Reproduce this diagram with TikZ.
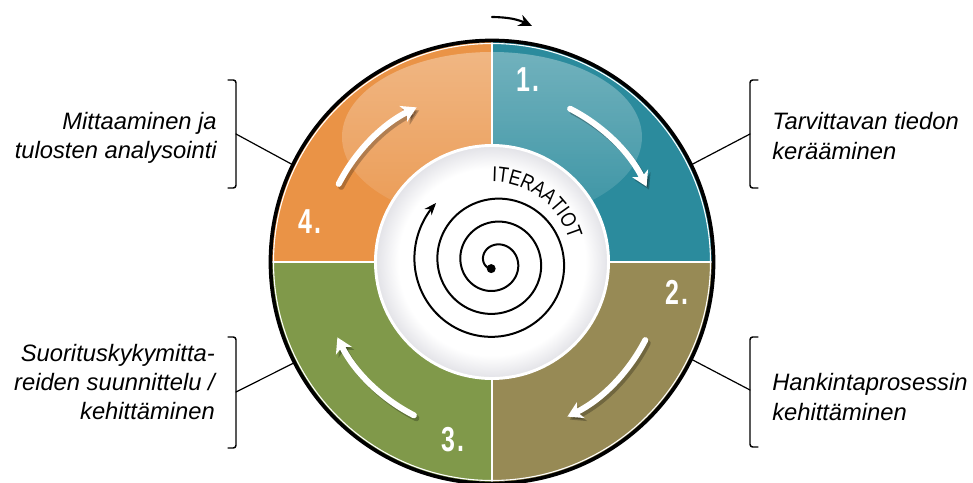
\documentclass[tikz,border=0pt]{standalone}
\usepackage{fontspec}
\setmainfont{Liberation Sans}
\newfontfamily\numfont[FakeStretch=0.72]{Liberation Sans}
\newfontfamily\condfont[FakeStretch=0.82]{Liberation Sans}
\usetikzlibrary{arrows.meta,decorations.text,fadings}
\definecolor{tealq}{RGB}{43,139,157}
\definecolor{oliveq}{RGB}{151,138,85}
\definecolor{greenq}{RGB}{128,153,74}
\definecolor{orangeq}{RGB}{234,147,70}
\definecolor{discgray}{RGB}{172,172,186}
\pgfdeclareradialshading{discshade}{\pgfpoint{0bp}{0bp}}{color(0bp)=(white); color(20bp)=(white); color(34bp)=(discgray); color(50bp)=(discgray)}

\begin{document}
\begin{tikzpicture}[x=0.75pt, y=0.75pt, line cap=round, line join=round,
  note/.style={font=\fontsize{17.8}{22}\selectfont\itshape, inner sep=0pt},
  num/.style={font=\numfont\bfseries\fontsize{26}{26}\selectfont, text=white, inner sep=0pt},
  flow/.style={white, line width=4.5pt, -{Stealth[length=11pt, width=13pt, inset=3pt]}},
  flowshadow/.style={flow, black, opacity=0.25, shift={(2.5,-3)}},
  brace/.style={line width=1.1pt, rounded corners=2pt},
  link/.style={line width=0.9pt}]
  \useasboundingbox (-492,-220) rectangle (481,262);

  % quadrants: 1 teal, 2 olive, 3 green, 4 orange
  \fill[tealq] (0,0) -- (90:220) arc[start angle=90, end angle=0, radius=220] -- cycle;
  \fill[oliveq] (0,0) -- (0:220) arc[start angle=0, end angle=-90, radius=220] -- cycle;
  \fill[greenq] (0,0) -- (-90:220) arc[start angle=-90, end angle=-180, radius=220] -- cycle;
  \fill[orangeq] (0,0) -- (180:220) arc[start angle=180, end angle=90, radius=220] -- cycle;

  % gloss on the upper half
  \begin{scope}
    \clip (0,0) circle[radius=219];
    \fill[white, fill opacity=0.08] (0,125) ellipse[x radius=150, y radius=85];
    \fill[white, fill opacity=0.28, path fading=south] (0,125) ellipse[x radius=150, y radius=85];
  \end{scope}

  % separators and rim
  \draw[white, line width=1.5pt] (0,-220) -- (0,220);
  \draw[white, line width=1.5pt] (-220,0) -- (220,0);
  \draw[white, line width=0.8pt] (0,0) circle[radius=218.5];
  \draw[line width=2.8pt] (0,0) circle[radius=221.5];

  % inner disc
  \shade[shading=discshade] (0,0) circle[radius=117];
  \draw[white, line width=2.2pt] (0,0) circle[radius=116.5];

  % spiral
  \coordinate (seed) at (-0.8,-6.6);
  \draw[line width=1.5pt, -{Stealth[length=9pt, width=7pt]}]
    plot[domain=120:1305, samples=400, smooth, variable=\t]
    ({3+0.0639*\t*cos(-\t)}, {0.0639*\t*sin(-\t)});
  \fill (seed) circle[radius=4.5];
  \path[decorate, decoration={text along path, text align=center,
    text={|\condfont\fontsize{16}{18}\selectfont|ITERAATIOT}}]
    (98:80) arc[start angle=98, end angle=8, radius=80];

  % white arrows
  \foreach \q in {90,0,-90,180} {
    \draw[flowshadow] ({\q-27}:172) arc[start angle=\q-27, end angle=\q-64, radius=172];
    \draw[flow] ({\q-27}:172) arc[start angle=\q-27, end angle=\q-64, radius=172];
  }

  % step numbers
  \foreach \k/\x/\y in {1/36/182, 2/185/-30, 3/-39/-178, 4/-182/40} {
    \node[num] (n\k) at (\x,\y) {\k\hspace{2pt}.};
  }

  % direction arrow on top
  \coordinate (r0) at (0,245);
  \coordinate (r1) at (40,236);
  \draw[line width=1.6pt, -{Stealth[length=10pt, width=9pt]}] (r0) to[bend left=12] (r1);

  % callouts
  \coordinate (b1) at (258,128);
  \coordinate (c1) at (26:221);
  \draw[brace] (266,182) -- (258,182) -- (258,74) -- (266,74);
  \draw[link] (b1) -- (c1);
  \node[note, anchor=west, align=left] (t1) at (280,126) {Tarvittavan tiedon\\kerääminen};

  \coordinate (b2) at (258,-128);
  \coordinate (c2) at (-26:221);
  \draw[brace] (266,-75) -- (258,-75) -- (258,-185) -- (266,-185);
  \draw[link] (b2) -- (c2);
  \node[note, anchor=west, align=left] (t2) at (280,-135) {Hankintaprosessin\\kehittäminen};

  \coordinate (b3) at (-256,-130);
  \coordinate (c3) at (207:221);
  \draw[brace] (-264,-75) -- (-256,-75) -- (-256,-186) -- (-264,-186);
  \draw[link] (b3) -- (c3);
  \node[note, anchor=east, align=right] (t3) at (-277,-120) {Suorituskykymitta-\\reiden suunnittelu /\\kehittäminen};

  \coordinate (b4) at (-256,128);
  \coordinate (c4) at (154:221);
  \draw[brace] (-264,182) -- (-256,182) -- (-256,74) -- (-264,74);
  \draw[link] (b4) -- (c4);
  \node[note, anchor=east, align=right] (t4) at (-275,124) {Mittaaminen ja\\tulosten analysointi};
\end{tikzpicture}
\end{document}
